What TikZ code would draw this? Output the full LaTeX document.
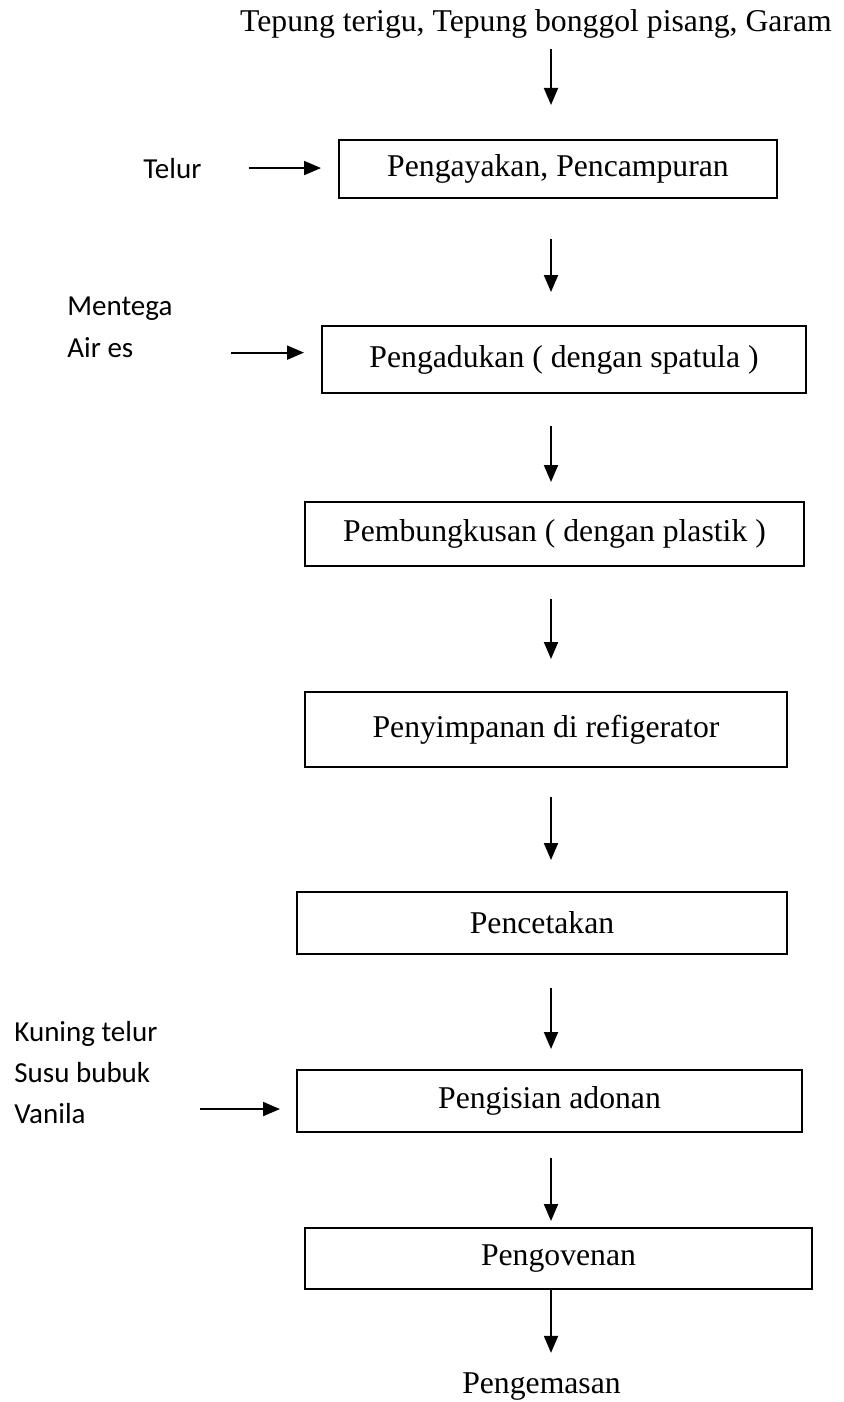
\documentclass[tikz,border=0pt]{standalone}
\usepackage{fontspec}
\setmainfont{Liberation Serif}
\newfontfamily\labelfont{Carlito}
\usetikzlibrary{arrows.meta}

\begin{document}
\begin{tikzpicture}[>={Triangle[width=7pt,length=8.5pt]}, x=0.5pt, y=-0.5pt,
        proses/.style={draw, line width=1pt, inner sep=0pt, font=\fontsize{15.85}{18}\selectfont},
        teks/.style={inner sep=0pt, font=\fontsize{15.85}{18}\selectfont},
        bahan/.style={inner sep=0pt, anchor=base west, font=\labelfont\fontsize{14.5}{17}\selectfont},
        alur/.style={->, line width=1pt}]
        \useasboundingbox (0,0) rectangle (844,1402);
        \coordinate (spine) at (551,0);

        % Bahan awal
        \node[teks, anchor=base] (awal) at (536,32) {Tepung terigu, Tepung bonggol pisang, Garam};

        % Proses
        \node[proses, minimum width=219pt, minimum height=29pt] (ayak) at (558,169) {Pengayakan, Pencampuran};
        \node[proses, minimum width=242pt, minimum height=33.5pt] (aduk) at (564,359.5) {Pengadukan ( dengan spatula )};
        \node[proses, minimum width=249.5pt, minimum height=32pt] (bungkus) at (554.5,534) {Pembungkusan ( dengan plastik )};
        \node[proses, minimum width=241pt, minimum height=37.5pt] (simpan) at (546,729.5) {Penyimpanan di refigerator};
        \node[proses, minimum width=245pt, minimum height=31pt] (cetak) at (542,923) {Pencetakan};
        \node[proses, minimum width=252.5pt, minimum height=31pt] (isi) at (549.5,1101) {Pengisian adonan};
        \node[proses, minimum width=253.5pt, minimum height=30.5pt] (oven) at (558.5,1258.5) {Pengovenan};

        % Hasil
        \node[teks, anchor=base] (kemas) at (541.5,1393) {Pengemasan};

        % Bahan tambahan
        \node[bahan] (telur) at (143,178) {Telur};
        \node[bahan] (mentega) at (67,315) {Mentega};
        \node[bahan] (air) at (67,357) {Air es};
        \node[bahan] (kuning) at (14,1041) {Kuning telur};
        \node[bahan] (susu) at (14,1082) {Susu bubuk};
        \node[bahan] (vanila) at (14,1123) {Vanila};

        % Alur
        \draw[alur, shorten <=5pt, shorten >=17pt] (awal.south -| spine) -- (ayak.north -| spine);
        \draw[alur, shorten <=20pt, shorten >=16.5pt] (ayak.south -| spine) -- (aduk.north -| spine);
        \draw[alur, shorten <=16pt, shorten >=9.5pt] (aduk.south -| spine) -- (bungkus.north -| spine);
        \draw[alur, shorten <=16pt, shorten >=16pt] (bungkus.south -| spine) -- (simpan.north -| spine);
        \draw[alur, shorten <=14.5pt, shorten >=15.5pt] (simpan.south -| spine) -- (cetak.north -| spine);
        \draw[alur, shorten <=16.5pt, shorten >=10pt] (cetak.south -| spine) -- (isi.north -| spine);
        \draw[alur, shorten <=12.5pt, shorten >=3pt] (isi.south -| spine) -- (oven.north -| spine);
        \draw[alur, shorten >=9.5pt] (oven.south -| spine) -- (kemas.north -| spine);

        \draw[alur, shorten <=23.5pt, shorten >=8.5pt] (telur.east) -- (telur.east -| ayak.west);
        \draw[alur, shorten <=48.5pt, shorten >=8.5pt] ([yshift=-2.75pt]air.east) -- ([yshift=-2.75pt]air.east -| aduk.west);
        \draw[alur, shorten <=57pt, shorten >=8pt] ([yshift=2pt]vanila.east) -- ([yshift=2pt]vanila.east -| isi.west);
    \end{tikzpicture}
\end{document}
